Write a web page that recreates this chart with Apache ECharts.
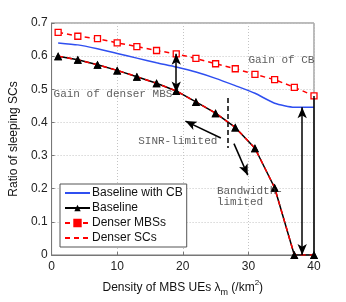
<!DOCTYPE html>
<html>
<head>
<meta charset="utf-8">
<script src="https://cdn.jsdelivr.net/npm/echarts@6/dist/echarts.min.js"></script>
<style>html,body{margin:0;padding:0;background:#fff}#c{width:346px;height:302px}</style>
</head>
<body>
<div id="c"></div>
<script>
const xValues = [1, 4, 7, 10, 13, 16, 19, 22, 25, 28, 31, 34, 37, 40];
const baselineCB = [0.640, 0.634, 0.622, 0.608, 0.594, 0.580, 0.567, 0.552, 0.533, 0.511, 0.488, 0.458, 0.446, 0.446];
const baseline = [0.600, 0.589, 0.574, 0.557, 0.538, 0.518, 0.495, 0.462, 0.428, 0.385, 0.322, 0.203, 0, 0];
const denserMBSs = [0.672, 0.660, 0.653, 0.640, 0.629, 0.617, 0.607, 0.593, 0.577, 0.562, 0.545, 0.529, 0.506, 0.480];
const denserSCs = [0.600, 0.589, 0.574, 0.557, 0.538, 0.518, 0.495, 0.462, 0.428, 0.385, 0.322, 0.203, 0, 0];
const xTicks = [0, 10, 20, 30, 40];
const yTicks = [0, 0.1, 0.2, 0.3, 0.4, 0.5, 0.6, 0.7];
const seriesNames = ['Baseline with CB', 'Baseline', 'Denser MBSs', 'Denser SCs'];
// annotation texts: [x, y, text]
const annotations = [
  [0.3, 0.485, 'Gain of denser MBS'],
  [30.0, 0.587, 'Gain of CB'],
  [13.2, 0.343, 'SINR-limited'],
  [25.2, 0.175, 'Bandwidth-\nlimited']
];
// arrows: [x1, y1, x2, y2, startSymbol, endSymbol, dashed]
const arrows = [
  [19, 0.607, 19, 0.490, 'arrow', 'arrow', false],
  [38.2, 0.446, 38.2, 0, 'arrow', 'arrow', false],
  [25.8, 0.353, 20.4, 0.404, 'none', 'arrow', false],
  [27.8, 0.336, 29.9, 0.241, 'none', 'arrow', false],
  [26.9, 0.474, 26.9, 0.323, 'none', 'none', true],
  [40, 0.480, 40, 0, 'none', 'none', false]
];

const pair = (ys) => xValues.map((x, i) => [x, ys[i]]);
const chart = echarts.init(document.getElementById('c'), null, {renderer: 'canvas'});
const font = 'Liberation Sans, Arial, sans-serif';
const mono = 'Liberation Mono, DejaVu Sans Mono, monospace';

const option = {
  animation: false,
  backgroundColor: '#fff',
  grid: {left: 45, right: 32, top: 23, bottom: 38, show: true, borderColor: '#777', borderWidth: 1},
  legend: {
    data: [
      {name: seriesNames[0], itemStyle: {opacity: 0}},
      {name: seriesNames[1]},
      {name: seriesNames[2], itemStyle: {color: '#ff0000', borderColor: '#ff0000'}},
      {name: seriesNames[3], itemStyle: {opacity: 0}}
    ],
    orient: 'vertical',
    left: 60, top: 184,
    itemWidth: 25, itemHeight: 8, itemGap: 1,
    padding: [2, 4, 2, 4],
    borderColor: '#555', borderWidth: 1,
    backgroundColor: '#fff',
    textStyle: {fontFamily: font, fontSize: 12, color: '#111', lineHeight: 14, padding: [0, 0, 0, -3]}
  },
  xAxis: {
    type: 'value', min: 0, max: 40, interval: 10,
    name: 'Density of MBS UEs λ{sub|m} (/km{sup|2})',
    nameLocation: 'middle', nameGap: 24,
    nameTextStyle: {
      fontFamily: font, fontSize: 12, color: '#111', lineHeight: 18,
      rich: {
        sub: {fontFamily: font, fontSize: 9, verticalAlign: 'bottom', lineHeight: 18, padding: [6, 0, 0, 0]},
        sup: {fontFamily: font, fontSize: 8, verticalAlign: 'top', lineHeight: 18}
      }
    },
    axisLine: {lineStyle: {color: '#777'}},
    axisTick: {inside: true, length: 3, lineStyle: {color: '#777'}},
    axisLabel: {fontFamily: font, fontSize: 12, color: '#222', margin: 6, formatter: v => xTicks.includes(v) ? String(v) : ''},
    splitLine: {show: true, lineStyle: {color: '#c4c4c4', type: [1, 2]}}
  },
  yAxis: {
    type: 'value', min: 0, max: 0.7, interval: 0.1,
    name: 'Ratio of sleeping SCs',
    nameLocation: 'middle', nameGap: 28,
    nameTextStyle: {fontFamily: font, fontSize: 12, color: '#111'},
    axisLine: {show: true, lineStyle: {color: '#777'}},
    axisTick: {show: true, inside: true, length: 3, lineStyle: {color: '#777'}},
    axisLabel: {fontFamily: font, fontSize: 12, color: '#222', margin: 4,
      formatter: v => { const t = yTicks.find(k => Math.abs(k - v) < 1e-9); return t === undefined ? '' : (t === 0 ? '0' : t.toFixed(1)); }},
    splitLine: {show: true, lineStyle: {color: '#c4c4c4', type: [1, 2]}}
  },
  series: [
    {
      name: seriesNames[0], type: 'line', data: pair(baselineCB), symbol: 'none', smooth: 0.2,
      lineStyle: {color: '#2f4ff0', width: 1.5}, itemStyle: {color: '#2f4ff0'}, z: 2
    },
    {
      name: seriesNames[1], type: 'line', data: pair(baseline), symbol: 'triangle', symbolSize: 8,
      lineStyle: {color: '#000', width: 1.5}, itemStyle: {color: '#000'}, z: 2
    },
    {
      name: seriesNames[2], type: 'line', data: pair(denserMBSs), symbol: 'rect', symbolSize: 6,
      lineStyle: {color: '#ff0000', width: 1.5, type: [5, 4]},
      itemStyle: {color: '#fff', borderColor: '#ff0000', borderWidth: 1.3}, z: 3
    },
    {
      name: seriesNames[3], type: 'line', data: pair(denserSCs), symbol: 'none',
      lineStyle: {color: '#ff0000', width: 1.5, type: [5, 4]}, itemStyle: {color: '#ff0000'}, z: 3
    },
    {
      name: 'baselineMarkers', type: 'line', data: pair(baseline), symbol: 'triangle', symbolSize: 8,
      lineStyle: {width: 0, opacity: 0}, itemStyle: {color: '#000'}, z: 4, silent: true
    },
    {
      name: 'arrows', type: 'line', data: [], z: 5, silent: true,
      markLine: {
        silent: true, animation: false, symbolSize: [7, 11],
        label: {show: false},
        data: arrows.map(a => [
          {coord: [a[0], a[1]], symbol: a[4], lineStyle: {color: '#000', width: 1.5, type: a[6] ? [5, 3] : 'solid'}},
          {coord: [a[2], a[3]], symbol: a[5]}
        ]),
        lineStyle: {color: '#000', width: 1.5, type: 'solid'}
      }
    },
    {
      name: 'notes', type: 'scatter', data: annotations.map(a => ({value: [a[0], a[1]], label: {formatter: a[2]}})),
      symbolSize: 0, z: 6, silent: true,
      label: {show: true, position: 'right', distance: 0, fontFamily: mono, fontSize: 11, color: '#333', lineHeight: 11, align: 'left'}
    }
  ]
};
chart.setOption(option);
</script>
</body>
</html>
